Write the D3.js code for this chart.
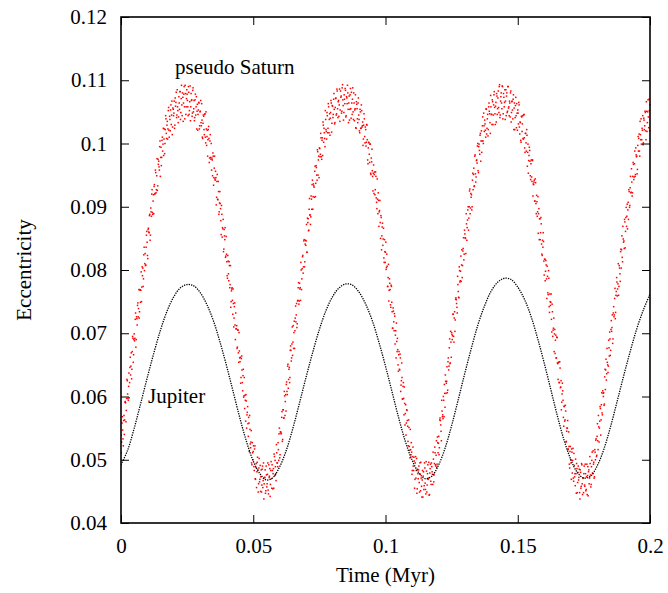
<!DOCTYPE html>
<html>
<head>
<meta charset="utf-8">
<script src="https://cdn.jsdelivr.net/npm/d3@7"></script>
<style>
  html, body { margin: 0; padding: 0; background: #fff; }
  svg text { font-family: "Liberation Serif", "Times New Roman", serif; fill: #000; }
</style>
</head>
<body>
<div id="chart"></div>
<script>
// Jupiter eccentricity, sampled every 0.0025 Myr from t = 0
const jupiterStep = 0.0025;
const jupiterEcc = [
  0.0492, 0.0515, 0.0550, 0.0590, 0.0631, 0.0670, 0.0706, 0.0736, 0.0758, 0.0772,
  0.0777, 0.0775, 0.0764, 0.0745, 0.0719, 0.0685, 0.0647, 0.0606, 0.0565, 0.0528,
  0.0498, 0.0478, 0.0468, 0.0472, 0.0489, 0.0515, 0.0550, 0.0590, 0.0631, 0.0670,
  0.0706, 0.0736, 0.0758, 0.0772, 0.0778, 0.0776, 0.0765, 0.0746, 0.0720, 0.0686,
  0.0648, 0.0607, 0.0566, 0.0529, 0.0500, 0.0480, 0.0470, 0.0474, 0.0491, 0.0518,
  0.0554, 0.0595, 0.0637, 0.0677, 0.0714, 0.0744, 0.0767, 0.0781, 0.0787, 0.0785,
  0.0773, 0.0754, 0.0727, 0.0692, 0.0653, 0.0611, 0.0569, 0.0531, 0.0501, 0.0480,
  0.0471, 0.0474, 0.0490, 0.0516, 0.0551, 0.0591, 0.0632, 0.0671, 0.0707, 0.0737,
  0.0762
];

// pseudo Saturn eccentricity, outputs every 0.00025 Myr from t = 0
const saturnStep = 0.00025;
const saturnEcc = [
  0.0539, 0.0528, 0.0568, 0.0533, 0.0562, 0.0540, 0.0591, 0.0590, 0.0578, 0.0627,
  0.0604, 0.0594, 0.0637, 0.0622, 0.0662, 0.0648, 0.0628, 0.0671, 0.0692, 0.0666,
  0.0699, 0.0692, 0.0732, 0.0690, 0.0723, 0.0744, 0.0726, 0.0769, 0.0734, 0.0768,
  0.0768, 0.0750, 0.0805, 0.0803, 0.0786, 0.0836, 0.0810, 0.0807, 0.0836, 0.0861,
  0.0823, 0.0864, 0.0860, 0.0886, 0.0847, 0.0898, 0.0885, 0.0927, 0.0888, 0.0919,
  0.0932, 0.0920, 0.0958, 0.0922, 0.0949, 0.0926, 0.0975, 0.0972, 0.0958, 0.1004,
  0.0978, 0.0965, 0.1005, 0.0988, 0.1024, 0.1007, 0.0984, 0.1022, 0.1039, 0.1008,
  0.1035, 0.1023, 0.1057, 0.1010, 0.1038, 0.1053, 0.1030, 0.1067, 0.1026, 0.1054,
  0.1048, 0.1024, 0.1072, 0.1065, 0.1041, 0.1085, 0.1052, 0.1042, 0.1064, 0.1082,
  0.1038, 0.1071, 0.1061, 0.1080, 0.1035, 0.1078, 0.1058, 0.1092, 0.1046, 0.1071,
  0.1078, 0.1058, 0.1090, 0.1046, 0.1066, 0.1036, 0.1079, 0.1069, 0.1048, 0.1088,
  0.1055, 0.1036, 0.1069, 0.1045, 0.1074, 0.1051, 0.1021, 0.1053, 0.1064, 0.1028,
  0.1051, 0.1033, 0.1063, 0.1010, 0.1032, 0.1043, 0.1014, 0.1047, 0.1001, 0.1023,
  0.1011, 0.0980, 0.1022, 0.1008, 0.0977, 0.1014, 0.0975, 0.0958, 0.0974, 0.0985,
  0.0934, 0.0961, 0.0944, 0.0956, 0.0903, 0.0940, 0.0912, 0.0940, 0.0888, 0.0906,
  0.0905, 0.0878, 0.0902, 0.0852, 0.0865, 0.0829, 0.0864, 0.0848, 0.0820, 0.0853,
  0.0813, 0.0787, 0.0814, 0.0783, 0.0807, 0.0777, 0.0741, 0.0767, 0.0772, 0.0730,
  0.0747, 0.0724, 0.0748, 0.0690, 0.0707, 0.0712, 0.0678, 0.0705, 0.0654, 0.0672,
  0.0655, 0.0621, 0.0660, 0.0642, 0.0609, 0.0643, 0.0601, 0.0581, 0.0594, 0.0603,
  0.0550, 0.0575, 0.0557, 0.0567, 0.0513, 0.0548, 0.0519, 0.0546, 0.0492, 0.0511,
  0.0513, 0.0489, 0.0517, 0.0470, 0.0488, 0.0456, 0.0496, 0.0484, 0.0462, 0.0502,
  0.0469, 0.0450, 0.0484, 0.0460, 0.0490, 0.0467, 0.0438, 0.0472, 0.0484, 0.0451,
  0.0476, 0.0462, 0.0495, 0.0446, 0.0472, 0.0486, 0.0461, 0.0497, 0.0455, 0.0483,
  0.0478, 0.0455, 0.0505, 0.0499, 0.0478, 0.0524, 0.0495, 0.0489, 0.0516, 0.0541,
  0.0503, 0.0544, 0.0541, 0.0567, 0.0529, 0.0579, 0.0566, 0.0608, 0.0570, 0.0603,
  0.0619, 0.0608, 0.0648, 0.0613, 0.0643, 0.0622, 0.0673, 0.0673, 0.0661, 0.0710,
  0.0686, 0.0676, 0.0719, 0.0704, 0.0743, 0.0729, 0.0709, 0.0751, 0.0772, 0.0746,
  0.0779, 0.0772, 0.0812, 0.0769, 0.0802, 0.0823, 0.0805, 0.0848, 0.0813, 0.0847,
  0.0846, 0.0828, 0.0882, 0.0881, 0.0863, 0.0913, 0.0887, 0.0884, 0.0912, 0.0935,
  0.0896, 0.0936, 0.0931, 0.0956, 0.0916, 0.0965, 0.0950, 0.0990, 0.0950, 0.0980,
  0.0993, 0.0979, 0.1016, 0.0979, 0.1005, 0.0981, 0.1029, 0.1024, 0.1008, 0.1052,
  0.1022, 0.1007, 0.1044, 0.1024, 0.1058, 0.1038, 0.1013, 0.1049, 0.1064, 0.1032,
  0.1059, 0.1046, 0.1079, 0.1031, 0.1057, 0.1072, 0.1047, 0.1083, 0.1041, 0.1068,
  0.1061, 0.1035, 0.1083, 0.1075, 0.1051, 0.1093, 0.1060, 0.1049, 0.1070, 0.1087,
  0.1042, 0.1074, 0.1063, 0.1080, 0.1033, 0.1075, 0.1054, 0.1087, 0.1040, 0.1064,
  0.1070, 0.1050, 0.1080, 0.1036, 0.1055, 0.1025, 0.1066, 0.1055, 0.1033, 0.1072,
  0.1038, 0.1017, 0.1050, 0.1024, 0.1052, 0.1028, 0.0997, 0.1029, 0.1039, 0.1001,
  0.1022, 0.1002, 0.1029, 0.0974, 0.0993, 0.1001, 0.0970, 0.0999, 0.0951, 0.0971,
  0.0957, 0.0925, 0.0966, 0.0951, 0.0919, 0.0955, 0.0914, 0.0897, 0.0912, 0.0922,
  0.0869, 0.0894, 0.0875, 0.0886, 0.0832, 0.0868, 0.0839, 0.0866, 0.0812, 0.0829,
  0.0828, 0.0801, 0.0825, 0.0774, 0.0788, 0.0751, 0.0786, 0.0769, 0.0741, 0.0774,
  0.0734, 0.0708, 0.0735, 0.0704, 0.0727, 0.0697, 0.0661, 0.0687, 0.0692, 0.0650,
  0.0666, 0.0643, 0.0667, 0.0608, 0.0625, 0.0630, 0.0596, 0.0622, 0.0571, 0.0589,
  0.0573, 0.0539, 0.0579, 0.0562, 0.0529, 0.0563, 0.0521, 0.0503, 0.0516, 0.0527,
  0.0477, 0.0505, 0.0490, 0.0504, 0.0455, 0.0495, 0.0471, 0.0502, 0.0454, 0.0478,
  0.0484, 0.0464, 0.0495, 0.0451, 0.0471, 0.0441, 0.0483, 0.0474, 0.0453, 0.0495,
  0.0463, 0.0446, 0.0482, 0.0460, 0.0492, 0.0471, 0.0444, 0.0479, 0.0493, 0.0461,
  0.0489, 0.0477, 0.0512, 0.0465, 0.0494, 0.0511, 0.0490, 0.0530, 0.0493, 0.0527,
  0.0526, 0.0508, 0.0563, 0.0562, 0.0545, 0.0594, 0.0568, 0.0565, 0.0594, 0.0619,
  0.0583, 0.0624, 0.0621, 0.0647, 0.0610, 0.0661, 0.0648, 0.0691, 0.0653, 0.0686,
  0.0701, 0.0690, 0.0730, 0.0695, 0.0724, 0.0703, 0.0754, 0.0753, 0.0741, 0.0790,
  0.0766, 0.0756, 0.0799, 0.0783, 0.0822, 0.0808, 0.0788, 0.0830, 0.0851, 0.0825,
  0.0857, 0.0850, 0.0889, 0.0847, 0.0879, 0.0900, 0.0882, 0.0925, 0.0889, 0.0921,
  0.0919, 0.0900, 0.0953, 0.0951, 0.0932, 0.0980, 0.0952, 0.0947, 0.0974, 0.0996,
  0.0957, 0.0995, 0.0989, 0.1013, 0.0972, 0.1020, 0.1004, 0.1042, 0.1000, 0.1028,
  0.1037, 0.1021, 0.1055, 0.1015, 0.1039, 0.1012, 0.1058, 0.1051, 0.1033, 0.1076,
  0.1046, 0.1030, 0.1066, 0.1045, 0.1077, 0.1057, 0.1030, 0.1065, 0.1079, 0.1046,
  0.1072, 0.1057, 0.1090, 0.1041, 0.1067, 0.1080, 0.1055, 0.1090, 0.1047, 0.1073,
  0.1065, 0.1038, 0.1085, 0.1075, 0.1049, 0.1090, 0.1056, 0.1044, 0.1064, 0.1080,
  0.1034, 0.1066, 0.1053, 0.1070, 0.1022, 0.1064, 0.1041, 0.1073, 0.1025, 0.1048,
  0.1053, 0.1031, 0.1061, 0.1015, 0.1033, 0.1002, 0.1042, 0.1031, 0.1008, 0.1045,
  0.1009, 0.0986, 0.1016, 0.0988, 0.1013, 0.0986, 0.0953, 0.0981, 0.0989, 0.0949,
  0.0968, 0.0947, 0.0973, 0.0917, 0.0935, 0.0942, 0.0909, 0.0938, 0.0889, 0.0908,
  0.0892, 0.0858, 0.0897, 0.0881, 0.0848, 0.0883, 0.0841, 0.0823, 0.0836, 0.0845,
  0.0792, 0.0817, 0.0798, 0.0808, 0.0755, 0.0790, 0.0761, 0.0787, 0.0733, 0.0750,
  0.0749, 0.0722, 0.0746, 0.0695, 0.0708, 0.0671, 0.0706, 0.0689, 0.0661, 0.0694,
  0.0653, 0.0627, 0.0654, 0.0622, 0.0645, 0.0615, 0.0579, 0.0604, 0.0609, 0.0567,
  0.0584, 0.0561, 0.0586, 0.0528, 0.0545, 0.0550, 0.0516, 0.0544, 0.0493, 0.0513,
  0.0500, 0.0469, 0.0512, 0.0499, 0.0471, 0.0510, 0.0473, 0.0459, 0.0478, 0.0494,
  0.0448, 0.0480, 0.0468, 0.0485, 0.0438, 0.0480, 0.0458, 0.0492, 0.0445, 0.0471,
  0.0478, 0.0460, 0.0493, 0.0451, 0.0473, 0.0445, 0.0489, 0.0481, 0.0462, 0.0505,
  0.0476, 0.0461, 0.0499, 0.0479, 0.0514, 0.0496, 0.0473, 0.0512, 0.0531, 0.0505,
  0.0537, 0.0530, 0.0570, 0.0528, 0.0561, 0.0581, 0.0563, 0.0606, 0.0571, 0.0605,
  0.0606, 0.0588, 0.0643, 0.0642, 0.0626, 0.0676, 0.0650, 0.0648, 0.0677, 0.0702,
  0.0665, 0.0706, 0.0703, 0.0729, 0.0691, 0.0742, 0.0729, 0.0771, 0.0733, 0.0766,
  0.0781, 0.0770, 0.0810, 0.0774, 0.0803, 0.0782, 0.0833, 0.0832, 0.0820, 0.0869,
  0.0844, 0.0834, 0.0876, 0.0861, 0.0899, 0.0885, 0.0865, 0.0907, 0.0927, 0.0899,
  0.0930, 0.0922, 0.0960, 0.0917, 0.0948, 0.0967, 0.0947, 0.0988, 0.0951, 0.0982,
  0.0980, 0.0959, 0.1011, 0.1008, 0.0988, 0.1035, 0.1006, 0.0999, 0.1024, 0.1044,
  0.1001, 0.1037, 0.1028, 0.1049, 0.1006, 0.1051, 0.1033, 0.1069, 0.1025, 0.1052,
  0.1061
];

// pseudo Saturn, the in-between outputs (t = 0.000125 + k * 0.00025 Myr)
const saturnStartB = 0.000125;
const saturnEccB = [
  0.0511, 0.0558, 0.0547, 0.0522, 0.0570, 0.0563, 0.0592, 0.0560, 0.0597, 0.0625,
  0.0597, 0.0616, 0.0598, 0.0646, 0.0634, 0.0669, 0.0643, 0.0695, 0.0654, 0.0690,
  0.0688, 0.0722, 0.0678, 0.0726, 0.0713, 0.0748, 0.0739, 0.0724, 0.0769, 0.0749,
  0.0797, 0.0773, 0.0791, 0.0774, 0.0824, 0.0799, 0.0826, 0.0808, 0.0855, 0.0844,
  0.0818, 0.0866, 0.0859, 0.0888, 0.0855, 0.0892, 0.0920, 0.0891, 0.0909, 0.0889,
  0.0935, 0.0921, 0.0954, 0.0927, 0.0976, 0.0933, 0.0967, 0.0963, 0.0995, 0.0948,
  0.0994, 0.0978, 0.1010, 0.0999, 0.0981, 0.1023, 0.1000, 0.1044, 0.1016, 0.1029,
  0.1007, 0.1052, 0.1021, 0.1043, 0.1020, 0.1061, 0.1045, 0.1014, 0.1056, 0.1044,
  0.1067, 0.1029, 0.1059, 0.1081, 0.1045, 0.1058, 0.1033, 0.1074, 0.1054, 0.1082,
  0.1049, 0.1092, 0.1044, 0.1073, 0.1064, 0.1090, 0.1039, 0.1079, 0.1058, 0.1085,
  0.1068, 0.1044, 0.1081, 0.1052, 0.1091, 0.1058, 0.1068, 0.1043, 0.1084, 0.1050,
  0.1068, 0.1041, 0.1078, 0.1058, 0.1023, 0.1062, 0.1046, 0.1065, 0.1023, 0.1050,
  0.1068, 0.1028, 0.1037, 0.1008, 0.1045, 0.1022, 0.1046, 0.1010, 0.1050, 0.0997,
  0.1021, 0.1006, 0.1027, 0.0970, 0.1004, 0.0978, 0.1000, 0.0977, 0.0949, 0.0980,
  0.0946, 0.0980, 0.0942, 0.0946, 0.0915, 0.0951, 0.0911, 0.0924, 0.0892, 0.0924,
  0.0897, 0.0856, 0.0888, 0.0867, 0.0880, 0.0833, 0.0854, 0.0867, 0.0822, 0.0825,
  0.0791, 0.0823, 0.0794, 0.0813, 0.0772, 0.0807, 0.0750, 0.0770, 0.0752, 0.0770,
  0.0710, 0.0742, 0.0713, 0.0732, 0.0707, 0.0676, 0.0705, 0.0669, 0.0701, 0.0661,
  0.0662, 0.0630, 0.0664, 0.0622, 0.0633, 0.0599, 0.0630, 0.0602, 0.0561, 0.0593,
  0.0571, 0.0584, 0.0537, 0.0558, 0.0570, 0.0525, 0.0528, 0.0495, 0.0527, 0.0500,
  0.0522, 0.0483, 0.0522, 0.0469, 0.0494, 0.0481, 0.0504, 0.0449, 0.0487, 0.0465,
  0.0491, 0.0473, 0.0449, 0.0485, 0.0456, 0.0495, 0.0462, 0.0472, 0.0447, 0.0490,
  0.0457, 0.0477, 0.0452, 0.0492, 0.0474, 0.0442, 0.0483, 0.0470, 0.0492, 0.0454,
  0.0486, 0.0509, 0.0475, 0.0489, 0.0467, 0.0511, 0.0495, 0.0527, 0.0499, 0.0550,
  0.0508, 0.0544, 0.0542, 0.0576, 0.0532, 0.0579, 0.0566, 0.0601, 0.0592, 0.0577,
  0.0623, 0.0603, 0.0651, 0.0627, 0.0646, 0.0630, 0.0680, 0.0656, 0.0683, 0.0665,
  0.0712, 0.0701, 0.0676, 0.0724, 0.0718, 0.0747, 0.0715, 0.0752, 0.0780, 0.0751,
  0.0770, 0.0752, 0.0800, 0.0786, 0.0821, 0.0795, 0.0846, 0.0805, 0.0841, 0.0839,
  0.0872, 0.0828, 0.0875, 0.0862, 0.0896, 0.0887, 0.0872, 0.0917, 0.0896, 0.0942,
  0.0916, 0.0933, 0.0915, 0.0964, 0.0937, 0.0962, 0.0942, 0.0987, 0.0974, 0.0946,
  0.0992, 0.0983, 0.1009, 0.0975, 0.1009, 0.1034, 0.1002, 0.1017, 0.0995, 0.1038,
  0.1019, 0.1049, 0.1017, 0.1063, 0.1017, 0.1047, 0.1040, 0.1068, 0.1018, 0.1060,
  0.1041, 0.1070, 0.1054, 0.1033, 0.1071, 0.1045, 0.1086, 0.1055, 0.1066, 0.1043,
  0.1086, 0.1053, 0.1073, 0.1048, 0.1088, 0.1069, 0.1037, 0.1077, 0.1063, 0.1084,
  0.1044, 0.1072, 0.1092, 0.1054, 0.1064, 0.1037, 0.1077, 0.1055, 0.1081, 0.1046,
  0.1088, 0.1038, 0.1064, 0.1053, 0.1077, 0.1024, 0.1062, 0.1039, 0.1064, 0.1045,
  0.1020, 0.1054, 0.1024, 0.1061, 0.1026, 0.1034, 0.1007, 0.1047, 0.1011, 0.1026,
  0.0996, 0.1030, 0.1006, 0.0968, 0.1002, 0.0983, 0.0999, 0.0953, 0.0977, 0.0991,
  0.0948, 0.0953, 0.0921, 0.0955, 0.0927, 0.0948, 0.0907, 0.0944, 0.0889, 0.0910,
  0.0892, 0.0910, 0.0850, 0.0883, 0.0854, 0.0874, 0.0849, 0.0819, 0.0848, 0.0812,
  0.0844, 0.0804, 0.0806, 0.0774, 0.0809, 0.0768, 0.0779, 0.0745, 0.0776, 0.0749,
  0.0708, 0.0740, 0.0718, 0.0731, 0.0683, 0.0704, 0.0716, 0.0671, 0.0674, 0.0640,
  0.0671, 0.0642, 0.0661, 0.0618, 0.0653, 0.0596, 0.0616, 0.0597, 0.0615, 0.0555,
  0.0587, 0.0558, 0.0578, 0.0553, 0.0522, 0.0551, 0.0515, 0.0548, 0.0508, 0.0512,
  0.0483, 0.0520, 0.0483, 0.0498, 0.0469, 0.0505, 0.0483, 0.0447, 0.0485, 0.0470,
  0.0490, 0.0449, 0.0477, 0.0496, 0.0458, 0.0468, 0.0441, 0.0481, 0.0459, 0.0487,
  0.0453, 0.0497, 0.0449, 0.0478, 0.0469, 0.0496, 0.0445, 0.0486, 0.0466, 0.0495,
  0.0481, 0.0461, 0.0501, 0.0476, 0.0520, 0.0492, 0.0507, 0.0488, 0.0536, 0.0511,
  0.0537, 0.0519, 0.0566, 0.0555, 0.0530, 0.0577, 0.0571, 0.0600, 0.0568, 0.0605,
  0.0634, 0.0605, 0.0624, 0.0606, 0.0655, 0.0642, 0.0677, 0.0652, 0.0703, 0.0662,
  0.0698, 0.0696, 0.0730, 0.0686, 0.0734, 0.0721, 0.0756, 0.0747, 0.0732, 0.0777,
  0.0757, 0.0805, 0.0781, 0.0798, 0.0782, 0.0832, 0.0807, 0.0834, 0.0816, 0.0863,
  0.0851, 0.0826, 0.0873, 0.0867, 0.0895, 0.0863, 0.0900, 0.0928, 0.0898, 0.0915,
  0.0895, 0.0942, 0.0927, 0.0961, 0.0933, 0.0982, 0.0939, 0.0973, 0.0969, 0.1000,
  0.0954, 0.0999, 0.0983, 0.1016, 0.1004, 0.0986, 0.1028, 0.1004, 0.1048, 0.1019,
  0.1031, 0.1010, 0.1054, 0.1024, 0.1046, 0.1022, 0.1064, 0.1047, 0.1016, 0.1058,
  0.1046, 0.1069, 0.1030, 0.1061, 0.1082, 0.1047, 0.1059, 0.1034, 0.1075, 0.1055,
  0.1083, 0.1049, 0.1093, 0.1045, 0.1074, 0.1064, 0.1091, 0.1039, 0.1079, 0.1058,
  0.1085, 0.1067, 0.1044, 0.1080, 0.1051, 0.1090, 0.1058, 0.1067, 0.1042, 0.1083,
  0.1049, 0.1067, 0.1039, 0.1077, 0.1056, 0.1022, 0.1060, 0.1044, 0.1063, 0.1021,
  0.1048, 0.1065, 0.1026, 0.1034, 0.1005, 0.1043, 0.1019, 0.1044, 0.1007, 0.1046,
  0.0993, 0.1016, 0.1001, 0.1022, 0.0964, 0.0999, 0.0973, 0.0994, 0.0972, 0.0943,
  0.0974, 0.0940, 0.0974, 0.0936, 0.0939, 0.0909, 0.0944, 0.0905, 0.0918, 0.0885,
  0.0916, 0.0889, 0.0848, 0.0881, 0.0859, 0.0873, 0.0825, 0.0847, 0.0859, 0.0814,
  0.0817, 0.0783, 0.0815, 0.0786, 0.0806, 0.0764, 0.0799, 0.0742, 0.0762, 0.0744,
  0.0762, 0.0702, 0.0734, 0.0705, 0.0724, 0.0699, 0.0668, 0.0697, 0.0661, 0.0693,
  0.0652, 0.0654, 0.0622, 0.0655, 0.0614, 0.0625, 0.0591, 0.0621, 0.0594, 0.0553,
  0.0585, 0.0563, 0.0577, 0.0529, 0.0550, 0.0562, 0.0517, 0.0521, 0.0487, 0.0521,
  0.0495, 0.0517, 0.0479, 0.0518, 0.0466, 0.0491, 0.0478, 0.0501, 0.0447, 0.0486,
  0.0464, 0.0490, 0.0472, 0.0448, 0.0484, 0.0455, 0.0494, 0.0462, 0.0471, 0.0448,
  0.0490, 0.0458, 0.0478, 0.0453, 0.0493, 0.0475, 0.0443, 0.0484, 0.0471, 0.0494,
  0.0457, 0.0489, 0.0512, 0.0478, 0.0493, 0.0471, 0.0516, 0.0500, 0.0533, 0.0507,
  0.0557, 0.0516, 0.0552, 0.0550, 0.0584, 0.0539, 0.0587, 0.0574, 0.0609, 0.0600,
  0.0586, 0.0631, 0.0611, 0.0659, 0.0636, 0.0654, 0.0638, 0.0689, 0.0664, 0.0691,
  0.0673, 0.0720, 0.0709, 0.0684, 0.0732, 0.0726, 0.0755, 0.0723, 0.0760, 0.0788,
  0.0759, 0.0778, 0.0760, 0.0807, 0.0794, 0.0829, 0.0803, 0.0854, 0.0813, 0.0849,
  0.0846, 0.0880, 0.0835, 0.0883, 0.0869, 0.0904, 0.0895, 0.0880, 0.0924, 0.0902,
  0.0948, 0.0923, 0.0939, 0.0922, 0.0970, 0.0943, 0.0968, 0.0948, 0.0993, 0.0979,
  0.0952, 0.0997, 0.0988, 0.1015, 0.0980, 0.1014, 0.1039, 0.1006, 0.1021, 0.0998,
  0.1040, 0.1022, 0.1051, 0.1020, 0.1066, 0.1019, 0.1050, 0.1042, 0.1070, 0.1020
];

const xTicks = [0, 0.05, 0.1, 0.15, 0.2];
const xTickLabels = ["0", "0.05", "0.1", "0.15", "0.2"];
const yTicks = [0.04, 0.05, 0.06, 0.07, 0.08, 0.09, 0.1, 0.11, 0.12];
const yTickLabels = ["0.04", "0.05", "0.06", "0.07", "0.08", "0.09", "0.1", "0.11", "0.12"];
const seriesNames = ["pseudo Saturn", "Jupiter"];
const xTitle = "Time (Myr)";
const yTitle = "Eccentricity";

const W = 668, H = 593;
const margin = {top: 17, right: 18, bottom: 70, left: 121};
const w = W - margin.left - margin.right;
const h = H - margin.top - margin.bottom;
const fontSize = 21;
const tickLen = 8;

const jupiter = jupiterEcc.map((e, i) => ({t: i * jupiterStep, e}));
const saturn = saturnEcc.map((e, i) => ({t: i * saturnStep, e}))
  .concat(saturnEccB.map((e, i) => ({t: saturnStartB + i * saturnStep, e})));

const svg = d3.select("#chart").append("svg")
  .attr("width", W)
  .attr("height", H)
  .attr("viewBox", [0, 0, W, H]);

const g = svg.append("g")
  .attr("transform", `translate(${margin.left},${margin.top})`);

const x = d3.scaleLinear().domain([0, 0.2]).range([0, w]);
const y = d3.scaleLinear().domain([0.04, 0.12]).range([h, 0]);

g.append("clipPath").attr("id", "plotclip")
  .append("rect").attr("width", w + 1).attr("height", h);

// pseudo Saturn: red dots
g.append("g")
  .attr("clip-path", "url(#plotclip)")
  .selectAll("rect")
  .data(saturn)
  .join("rect")
  .attr("x", d => x(d.t) - 0.75)
  .attr("y", d => y(d.e) - 0.75)
  .attr("width", 1.5)
  .attr("height", 1.5)
  .attr("fill", "#ff0000");

// Jupiter: fine black dotted curve
const line = d3.line()
  .x(d => x(d.t))
  .y(d => y(d.e))
  .curve(d3.curveCatmullRom);

g.append("path")
  .datum(jupiter)
  .attr("clip-path", "url(#plotclip)")
  .attr("fill", "none")
  .attr("stroke", "#000")
  .attr("stroke-width", 1.3)
  .attr("stroke-dasharray", "1.3 1.1")
  .attr("d", line);

// axes, ticks pointing inward on all four sides
function styleAxis(sel) {
  sel.select(".domain").remove();
  sel.selectAll(".tick line").attr("stroke", "#000").attr("stroke-width", 1);
  sel.selectAll(".tick text")
    .attr("font-family", "Liberation Serif, Times New Roman, serif")
    .attr("font-size", fontSize)
    .attr("fill", "#000");
}

g.append("g")
  .attr("transform", `translate(0,${h})`)
  .call(d3.axisBottom(x).tickValues(xTicks)
    .tickFormat((d, i) => xTickLabels[i])
    .tickSize(-tickLen).tickPadding(15))
  .call(styleAxis);

g.append("g")
  .call(d3.axisTop(x).tickValues(xTicks).tickFormat("").tickSize(-tickLen))
  .call(styleAxis);

g.append("g")
  .call(d3.axisLeft(y).tickValues(yTicks)
    .tickFormat((d, i) => yTickLabels[i])
    .tickSize(-tickLen).tickPadding(14))
  .call(styleAxis);

g.append("g")
  .attr("transform", `translate(${w},0)`)
  .call(d3.axisRight(y).tickValues(yTicks).tickFormat("").tickSize(-tickLen))
  .call(styleAxis);

// frame
g.append("rect")
  .attr("width", w)
  .attr("height", h)
  .attr("fill", "none")
  .attr("stroke", "#000")
  .attr("stroke-width", 1.6);

// series labels
g.append("text")
  .attr("x", x(0.0204))
  .attr("y", y(0.1110))
  .attr("font-size", fontSize)
  .text(seriesNames[0]);

g.append("text")
  .attr("x", x(0.0102))
  .attr("y", y(0.0590))
  .attr("font-size", fontSize)
  .text(seriesNames[1]);

// axis titles
svg.append("text")
  .attr("x", margin.left + w / 2)
  .attr("y", 582)
  .attr("text-anchor", "middle")
  .attr("font-size", fontSize)
  .text(xTitle);

svg.append("text")
  .attr("transform", `translate(31,${margin.top + h / 2}) rotate(-90)`)
  .attr("text-anchor", "middle")
  .attr("font-size", fontSize)
  .text(yTitle);
</script>
</body>
</html>
